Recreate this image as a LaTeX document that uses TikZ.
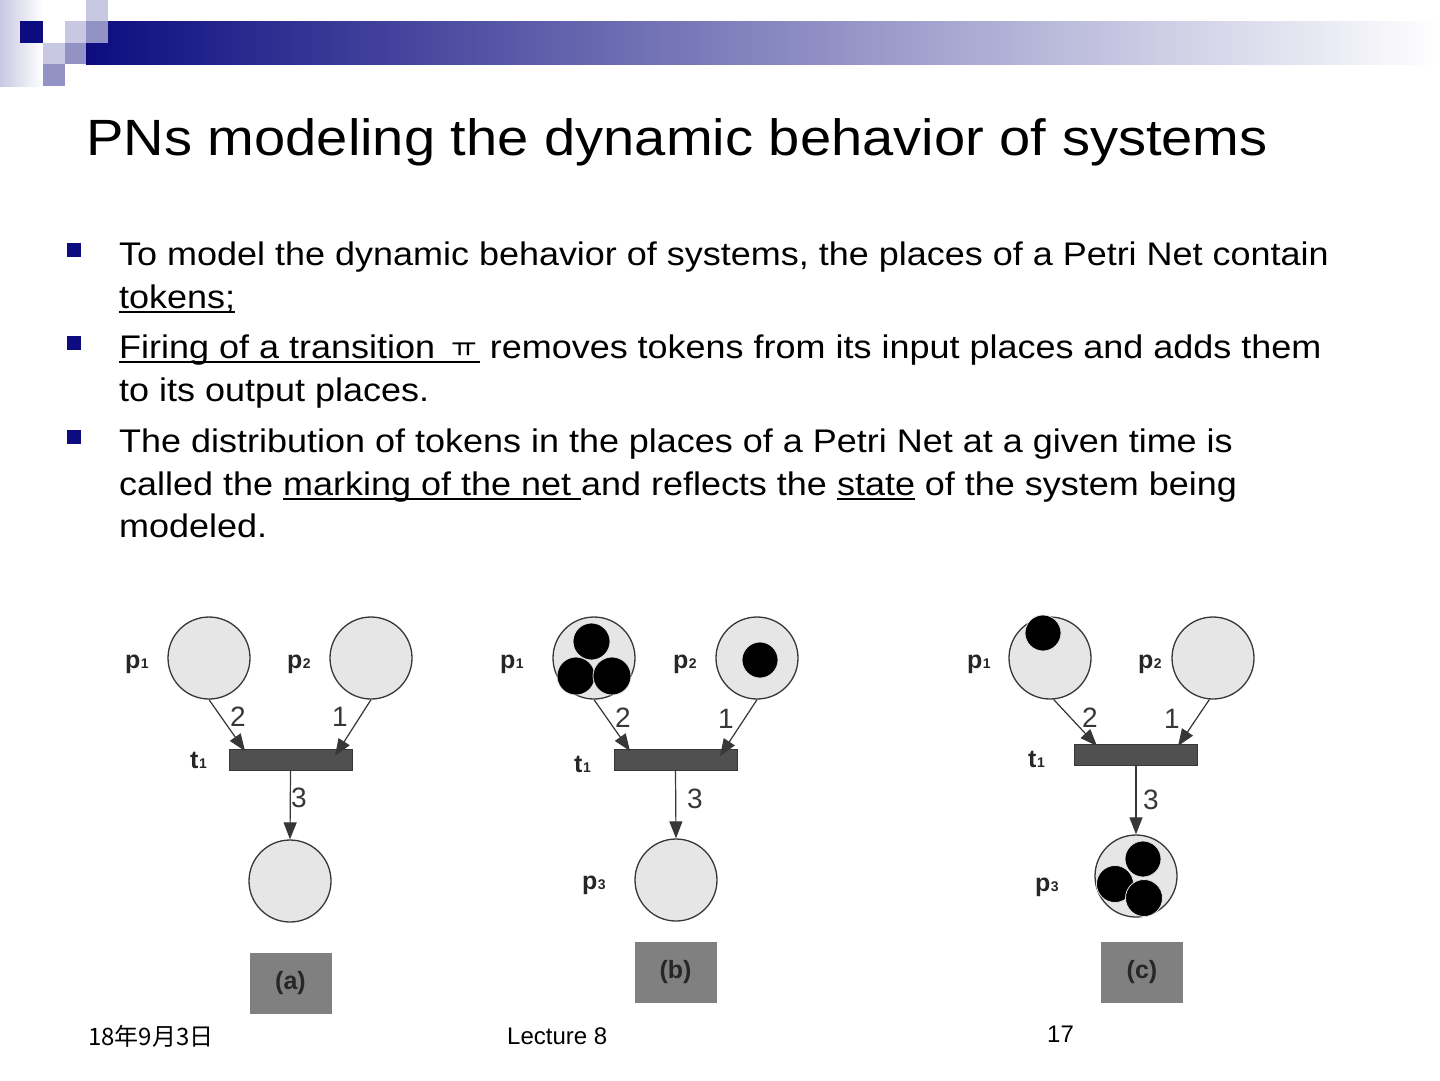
\documentclass[tikz,border=0pt]{standalone}
\usepackage{fontspec}
\setmainfont{Liberation Sans}[FakeStretch=1.1]
\newfontfamily\plainfont{Liberation Sans}
\newfontfamily\cjkfont{Noto Sans CJK SC}
\newfontfamily\krfont{Noto Sans CJK KR}
\usetikzlibrary{arrows.meta}
\definecolor{navyb}{RGB}{12,12,128}
\definecolor{lightsq}{RGB}{200,200,226}
\definecolor{midsq}{RGB}{146,146,196}
\definecolor{placefill}{RGB}{230,230,230}
\definecolor{edgec}{RGB}{55,55,55}
\definecolor{barfill}{RGB}{80,80,80}
\definecolor{capfill}{RGB}{128,128,128}
\definecolor{captext}{RGB}{38,38,38}
\newcommand\ulx[1]{\setbox0\hbox{#1}\rlap{\rule[-4.5pt]{\wd0}{1.8pt}}\box0\relax}
\newcommand\pl[2]{#1\kern0.5pt{\fontsize{14}{14}\selectfont #2}}
\tikzset{
  place/.style={circle, draw=edgec, fill=placefill, minimum size=82pt, inner sep=0pt, line width=1.3pt},
  trans/.style={rectangle, draw=edgec, fill=barfill, minimum width=123pt, minimum height=21pt, inner sep=0pt, line width=1pt},
  arc/.style={-{Triangle[length=17pt,width=13pt]}, line width=1.2pt, draw=edgec, fill=black},
  plbl/.style={font=\plainfont\bfseries\fontsize{25}{25}\selectfont, anchor=base west, inner sep=0pt, text=captext},
  wlbl/.style={font=\plainfont\fontsize{28}{28}\selectfont, inner sep=0pt, text=edgec},
  capbox/.style={fill=capfill, minimum width=82pt, minimum height=61pt, inner sep=0pt, font=\plainfont\bfseries\fontsize{25}{25}\selectfont, text=captext},
  token/.style={fill=black, draw=placefill, line width=0.8pt},
  bodyline/.style={anchor=base west, inner sep=0pt, font=\fontsize{32.7}{32.7}\selectfont},
  bullet/.style={fill=navyb},
  foot/.style={anchor=base west, inner sep=0pt, font=\plainfont\fontsize{24}{24}\selectfont}
}
\begin{document}
\begin{tikzpicture}[x=1pt,y=-1pt]
\useasboundingbox (0,0) rectangle (1440,1080);
\fill[white] (0,0) rectangle (1440,1080);
% header decoration
\shade[left color=lightsq, right color=white] (0,0) rectangle (43,86);
\shade[left color=navyb, right color=white] (86,21) rectangle (1440,64);
\fill[navyb] (20,21) rectangle (43,43);
\fill[lightsq] (86,0) rectangle (108,21);
\fill[lightsq] (65,21) rectangle (86,43);
\fill[midsq] (86,21) rectangle (108,43);
\fill[lightsq] (43,43) rectangle (65,64);
\fill[midsq] (65,43) rectangle (86,64);
\fill[midsq] (43,64) rectangle (65,86);
% title
\node[anchor=base west, inner sep=0pt, font=\fontsize{51}{51}\selectfont] (title) at (86,155) {PNs modeling the dynamic behavior of systems};
% bullets
\fill[bullet] (67,243) rectangle (81,257);
\fill[bullet] (67,336) rectangle (81,350);
\fill[bullet] (67,430) rectangle (81,444);
\node[bodyline] (l1) at (119,265) {To model the dynamic behavior of systems, the places of a Petri Net contain};
\node[bodyline] (l2) at (119,308) {\ulx{tokens;}};
\node[bodyline] (l3) at (119,358) {\ulx{Firing of a transition\hspace{16pt}{\krfont\fontsize{28}{28}\selectfont\raisebox{1pt}{ㅠ}}\hspace{3pt}} removes tokens from its input places and adds them};
\node[bodyline] (l4) at (119,401) {to its output places.};
\node[bodyline] (l5) at (119,452) {The distribution of tokens in the places of a Petri Net at a given time is};
\node[bodyline] (l6) at (119,495) {called the \ulx{marking of the net }and reflects the \ulx{state} of the system being};
\node[bodyline] (l7) at (119,537) {modeled.};
% ---------- net (a)
\node[place] (ap1) at (209,658) {};
\node[place] (ap2) at (371,658) {};
\node[trans] (at1) at (290.5,759.5) {};
\node[place] (ap3) at (290,881) {};
\node[capbox] (acap) at (290.5,983) {(a)};
\node[plbl] (apl1) at (125,668) {\pl{p}{1}};
\node[plbl] (apl2) at (287,668) {\pl{p}{2}};
\node[plbl] (atl1) at (190,768) {\pl{t}{1}};
\coordinate (ae1) at (245,751);
\coordinate (ae2) at (335,756);
\draw[arc] (ap1.south) -- (ae1);
\draw[arc] (ap2.south) -- (ae2);
\draw[arc] (at1.south) -- (ap3.north);
\node[wlbl] (aw1) at (238,717) {2};
\node[wlbl] (aw2) at (340,717) {1};
\node[wlbl] (aw3) at (299,798) {3};
% ---------- net (b)
\node[place] (bp1) at (594,658) {};
\node[place] (bp2) at (757,658) {};
\node[trans] (bt1) at (675.5,759.5) {};
\node[place] (bp3) at (676,880) {};
\node[capbox] (bcap) at (675.5,972.5) {(b)};
\node[plbl] (bpl1) at (500,668) {\pl{p}{1}};
\node[plbl] (bpl2) at (673,668) {\pl{p}{2}};
\node[plbl] (btl1) at (574,772) {\pl{t}{1}};
\node[plbl] (bpl3) at (582,889) {\pl{p}{3}};
\filldraw[token] (591.5,641.5) circle (18.5);
\filldraw[token] (576,676) circle (19);
\filldraw[token] (612,676) circle (19);
\filldraw[token] (760,660) circle (18);
\coordinate (be1) at (630,751);
\coordinate (be2) at (720,756);
\draw[arc] (bp1.south) -- (be1);
\draw[arc] (bp2.south) -- (be2);
\draw[arc] (bt1.south) -- (bp3.north);
\node[wlbl] (bw1) at (623,718) {2};
\node[wlbl] (bw2) at (726,719) {1};
\node[wlbl] (bw3) at (695,799) {3};
% ---------- net (c)
\node[place] (cp1) at (1050,658) {};
\node[place] (cp2) at (1213,658) {};
\node[trans] (ct1) at (1136,754.5) {};
\node[place] (cp3) at (1136,876) {};
\node[capbox] (ccap) at (1142,972.5) {(c)};
\node[plbl] (cpl1) at (967,668) {\pl{p}{1}};
\node[plbl] (cpl2) at (1138,668) {\pl{p}{2}};
\node[plbl] (ctl1) at (1028,767) {\pl{t}{1}};
\node[plbl] (cpl3) at (1035,891) {\pl{p}{3}};
\filldraw[token] (1043,633) circle (18);
\filldraw[token] (1143,859) circle (18);
\filldraw[token] (1115,884) circle (18.5);
\filldraw[token] (1144,898) circle (18.5);
\coordinate (ce1) at (1097,746);
\coordinate (ce2) at (1178,746);
\draw[arc] (cp1.-85) -- (ce1);
\draw[arc] (cp2.-95) -- (ce2);
\draw[arc] (ct1.south) -- (cp3.north);
\node[wlbl] (cw1) at (1090,718) {2};
\node[wlbl] (cw2) at (1172,719) {1};
\node[wlbl] (cw3) at (1151,800) {3};
% footer
\node[foot, font=\cjkfont\fontsize{24}{24}\selectfont] (date) at (88,1045) {18年9月3日};
\node[foot] (lect) at (507,1044) {Lecture 8};
\node[foot] (pnum) at (1047,1042) {17};
\end{tikzpicture}
\end{document}
